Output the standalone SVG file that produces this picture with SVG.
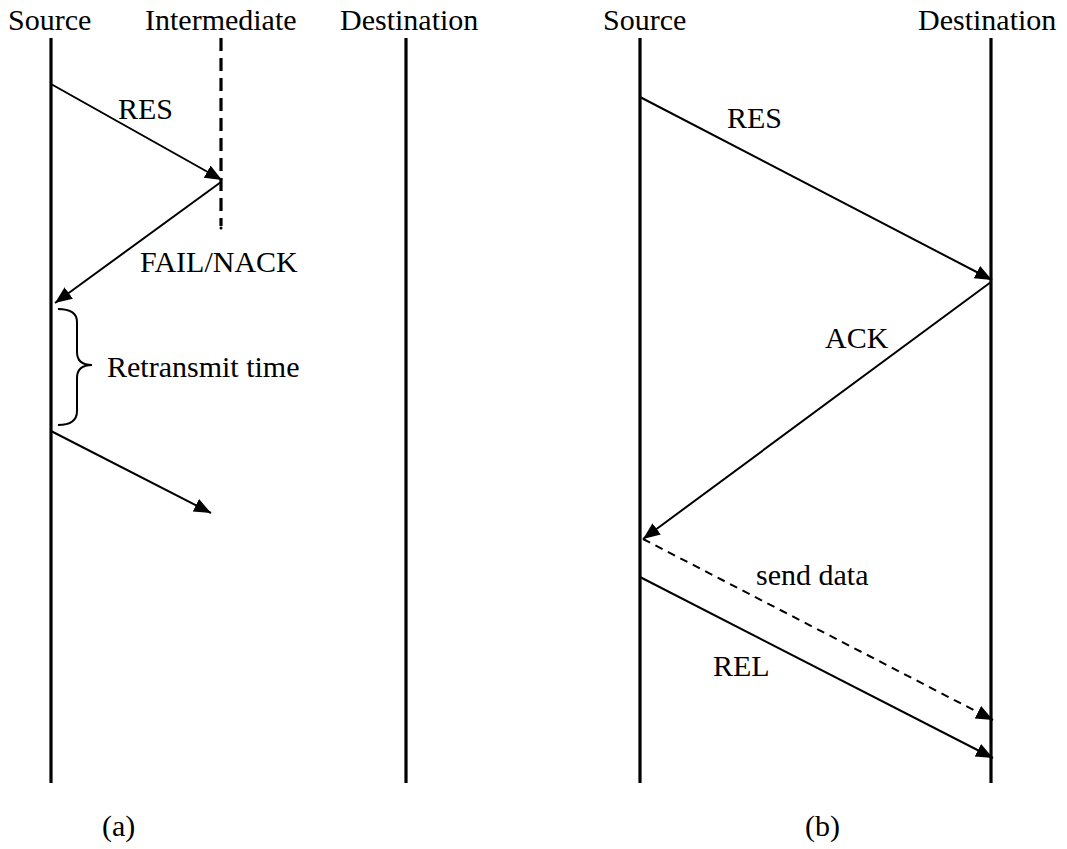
<svg xmlns="http://www.w3.org/2000/svg" width="1067" height="849" viewBox="0 0 1067 849">
  <defs>
    <marker id="arrow" markerUnits="userSpaceOnUse" markerWidth="20" markerHeight="16" refX="17" refY="7" orient="auto">
      <path d="M0,0 L17,7 L0,14 Z" fill="#000"/>
    </marker>
    <style>
      text { font-family: "Liberation Serif", "Times New Roman", serif; font-size: 30px; fill: #000; }
      .life { stroke: #000; stroke-width: 3.2; fill: none; }
      .life-dash { stroke: #000; stroke-width: 3.2; fill: none; stroke-dasharray: 13 7; }
      .msg { stroke: #000; stroke-width: 2; fill: none; marker-end: url(#arrow); }
      .msg-dash { stroke: #000; stroke-width: 2; fill: none; stroke-dasharray: 8 6; marker-end: url(#arrow); }
      .brace { stroke: #000; stroke-width: 2; fill: none; }
    </style>
  </defs>
  <rect width="1067" height="849" fill="#fff"/>

  <!-- (a) lifelines -->
  <g id="a-source">
    <text x="8" y="30">Source</text>
    <line class="life" x1="51" y1="38" x2="51" y2="783"/>
  </g>
  <g id="a-intermediate">
    <text x="145" y="30">Intermediate</text>
    <line class="life-dash" x1="221" y1="38" x2="221" y2="226"/>
    <circle cx="221" cy="228" r="1.5" fill="#000"/>
  </g>
  <g id="a-destination">
    <text x="340" y="30">Destination</text>
    <line class="life" x1="406" y1="38" x2="406" y2="783"/>
  </g>

  <!-- (b) lifelines -->
  <g id="b-source">
    <text x="603" y="30">Source</text>
    <line class="life" x1="640" y1="38" x2="640" y2="783"/>
  </g>
  <g id="b-destination">
    <text x="918" y="30">Destination</text>
    <line class="life" x1="991" y1="38" x2="991" y2="783"/>
  </g>

  <!-- messages -->
  <g id="connectors">
    <line class="msg" x1="51" y1="84" x2="222" y2="180"/>
    <line class="msg" x1="221" y1="182" x2="55" y2="303"/>
    <line class="msg" x1="51" y1="431" x2="211" y2="513"/>

    <line class="msg" x1="640" y1="97" x2="992" y2="280"/>
    <line class="msg" x1="991" y1="282" x2="643" y2="539"/>
    <line class="msg-dash" x1="643" y1="539" x2="993" y2="720"/>
    <line class="msg" x1="640" y1="577" x2="993" y2="758"/>
  </g>

  <!-- retransmit brace -->
  <g id="retransmit">
    <path class="brace" d="M58,309 Q77,309 77,322 L77,352 Q77,365 92,365 Q77,365 77,378 L77,411 Q77,425 58,425"/>
    <text x="107" y="377">Retransmit time</text>
  </g>

  <!-- message labels -->
  <g id="labels">
    <text x="118" y="119">RES</text>
    <text x="140" y="272">FAIL/NACK</text>
    <text x="727" y="128">RES</text>
    <text x="825" y="348">ACK</text>
    <text x="756" y="585">send data</text>
    <text x="713" y="676">REL</text>
  </g>

  <!-- captions -->
  <g id="captions">
    <text x="102" y="836">(a)</text>
    <text x="805" y="836">(b)</text>
  </g>
</svg>
